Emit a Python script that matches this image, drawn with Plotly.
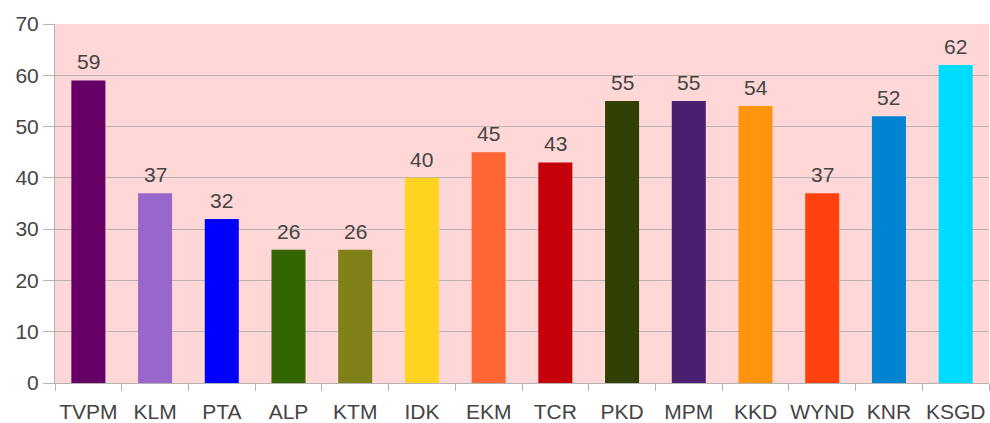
import plotly.graph_objects as go

categories = ["TVPM", "KLM", "PTA", "ALP", "KTM", "IDK", "EKM", "TCR", "PKD", "MPM", "KKD", "WYND", "KNR", "KSGD"]
values = [59, 37, 32, 26, 26, 40, 45, 43, 55, 55, 54, 37, 52, 62]
colors = ["#660066", "#9966cc", "#0000ff", "#336600", "#808019", "#ffd320", "#ff6633",
          "#c5000b", "#314004", "#4b1f6f", "#ff950e", "#ff420e", "#0084d1", "#00dcff"]
y_ticks = [0, 10, 20, 30, 40, 50, 60, 70]

FONT = "Liberation Sans, Arial, sans-serif"
TXT = "#444444"

fig = go.Figure(go.Bar(
    x=categories, y=values, marker=dict(color=colors, line=dict(width=0)),
))

for c, v in zip(categories, values):
    fig.add_annotation(x=c, y=v, text=str(v), showarrow=False, yanchor="bottom",
                       yshift=5, font=dict(family=FONT, size=21, color=TXT))

fig.update_layout(
    width=990, height=423,
    margin=dict(l=55, r=1, t=24, b=40, autoexpand=False),
    paper_bgcolor="white", plot_bgcolor="#ffd7d7",
    bargap=0.49, showlegend=False,
    font=dict(family=FONT, size=21, color=TXT),
)
fig.update_xaxes(
    type="category", tickson="boundaries", ticks="outside", ticklen=7, tickcolor="#b3b3b3",
    showline=True, linecolor="#b3b3b3", linewidth=1, showgrid=False, automargin=False,
    tickangle=0, tickfont=dict(family=FONT, size=21, color=TXT), ticklabelstandoff=10,
)
fig.update_yaxes(
    range=[0, 70], tickvals=y_ticks, ticks="outside", ticklen=11, tickcolor="#b3b3b3",
    showline=True, linecolor="#b3b3b3", linewidth=1, showgrid=True, gridcolor="#b3b3b3",
    zeroline=False, automargin=False, tickfont=dict(family=FONT, size=21, color=TXT),
)

fig.write_html("out.html", config={"displayModeBar": False},
               post_script="document.body.style.margin='0';document.body.style.overflow='hidden';")
